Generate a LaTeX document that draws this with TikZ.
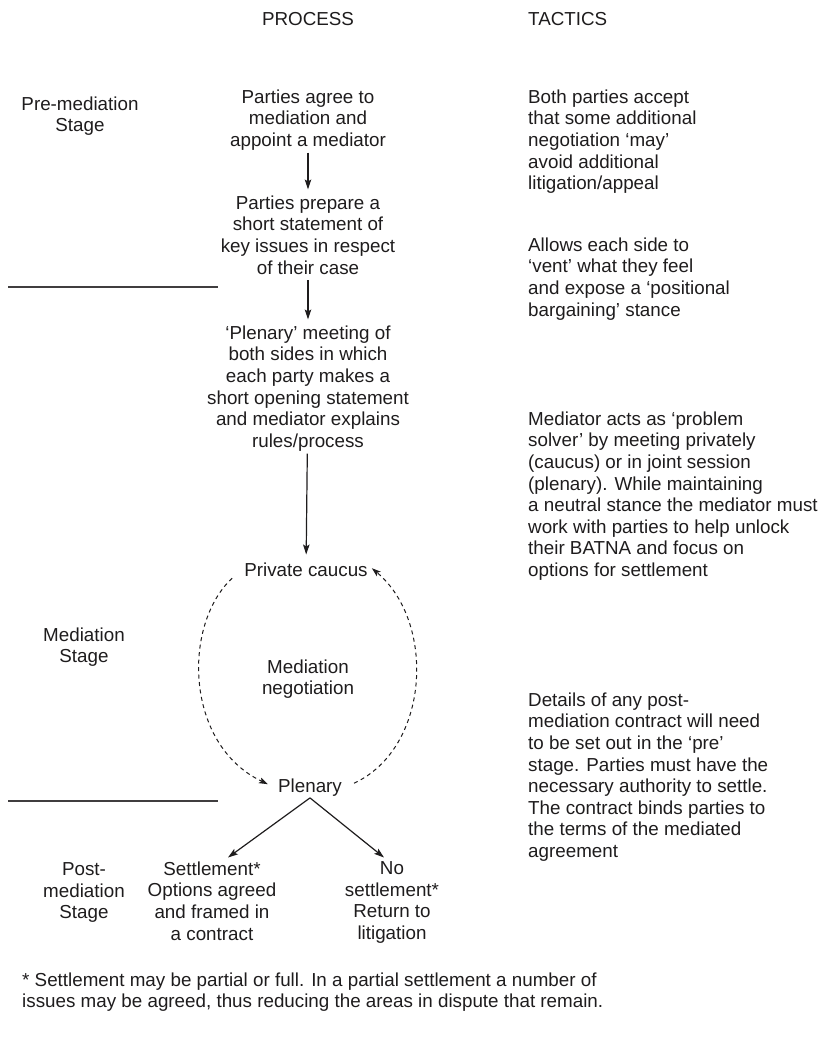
\documentclass[tikz,border=0pt]{standalone}
\usepackage{fontspec}
\setmainfont{Liberation Sans}
\usetikzlibrary{arrows.meta}
\definecolor{ink}{HTML}{1E1C1D}
\begin{document}
\begin{tikzpicture}[x=1pt,y=-1pt,
  every node/.style={text=ink, inner sep=0pt, font=\fontsize{18.8pt}{21.6pt}\selectfont},
  ctext/.style={align=center, anchor=north,
    execute at begin node={\rule{0pt}{14pt}},
    execute at end node={\rule[-5pt]{0pt}{5pt}}},
  ltext/.style={align=left, anchor=north west,
    execute at begin node={\rule{0pt}{14pt}},
    execute at end node={\rule[-5pt]{0pt}{5pt}}},
  arr/.style={draw=ink, line width=1.2pt, -{Stealth[length=10pt,width=6.5pt,inset=2pt]}},
  darr/.style={draw=ink, line width=1pt, dash pattern=on 4pt off 3.5pt,
    -{Stealth[length=9pt,width=6pt,inset=2pt]}},
  divider/.style={draw=ink!85, line width=1.3pt}]
\useasboundingbox (0,0) rectangle (820,1047);

% column headers
\node[ctext] (hproc) at (308,11.5) {PROCESS};
\node[ltext] (htact) at (528,11.5) {TACTICS};

% stage labels
\node[ctext] (spre)  at (80,96.5)  {Pre-mediation\\Stage};
\node[ctext] (smed)  at (84,627.5) {Mediation\\Stage};
\node[ctext] (spost) at (84,862.5) {Post-\\mediation\\Stage};

% stage dividers
\draw[divider] (8,287) -- (218,287);
\draw[divider] (8,801) -- (218,801);

% process steps
\node[ctext] (b1) at (308,89.5) {Parties agree to\\mediation and\\appoint a mediator};
\node[ctext] (b2) at (308,195.5) {Parties prepare a\\short statement of\\key issues in respect\\of their case};
\node[ctext] (b3) at (308,325.5) {‘Plenary’ meeting of\\both sides in which\\each party makes a\\short opening statement\\and mediator explains\\rules/process};
\node[ctext] (pc) at (306,562.5) {Private caucus};
\node[ctext] (mn) at (308,659.5) {Mediation\\negotiation};
\node[ctext] (plen) at (310,778.5) {Plenary};
\node[ctext] (sett) at (212,861.5) {Settlement*\\Options agreed\\and framed in\\a contract};
\node[ctext] (noset) at (392,861.5) {No\\settlement*\\Return to\\litigation};

\draw[arr, shorten <=1pt, shorten >=6pt] (b1) -- (b2);
\draw[arr, shorten <=1pt, shorten >=6pt] (b2) -- (b3);
\draw[arr, shorten <=1pt, shorten >=8pt] (b3) -- (pc);

% negotiation cycle
\draw[darr] ([xshift=-12pt,yshift=-6pt]pc.west) .. controls (182,625) and (185,745) .. ([xshift=-10pt,yshift=4pt]plen.west);
\draw[darr] ([xshift=12pt,yshift=5pt]plen.east) .. controls (430,748) and (436,622) .. ([xshift=4pt,yshift=4pt]pc.east);

% outcomes
\draw[arr] (plen.south) -- ([xshift=16pt,yshift=4pt]sett.north);
\draw[arr] (plen.south) -- ([xshift=-8pt,yshift=4pt]noset.north);

% tactics
\node[ltext] (t1) at (528,89.5) {Both parties accept\\that some additional\\negotiation ‘may’\\avoid additional\\litigation/appeal};
\node[ltext] (t2) at (528,237.5) {Allows each side to\\‘vent’ what they feel\\and expose a ‘positional\\bargaining’ stance};
\node[ltext] (t3) at (528,411.5) {Mediator acts as ‘problem\\solver’ by meeting privately\\(caucus) or in joint session\\(plenary). While maintaining\\a neutral stance the mediator must\\work with parties to help unlock\\their BATNA and focus on\\options for settlement};
\node[ltext] (t4) at (528,692.5) {Details of any post-\\mediation contract will need\\to be set out in the ‘pre’\\stage. Parties must have the\\necessary authority to settle.\\The contract binds parties to\\the terms of the mediated\\agreement};

% footnote
\node[ltext] (foot) at (22,972.5) {* Settlement may be partial or full. In a partial settlement a number of\\issues may be agreed, thus reducing the areas in dispute that remain.};
\end{tikzpicture}
\end{document}
